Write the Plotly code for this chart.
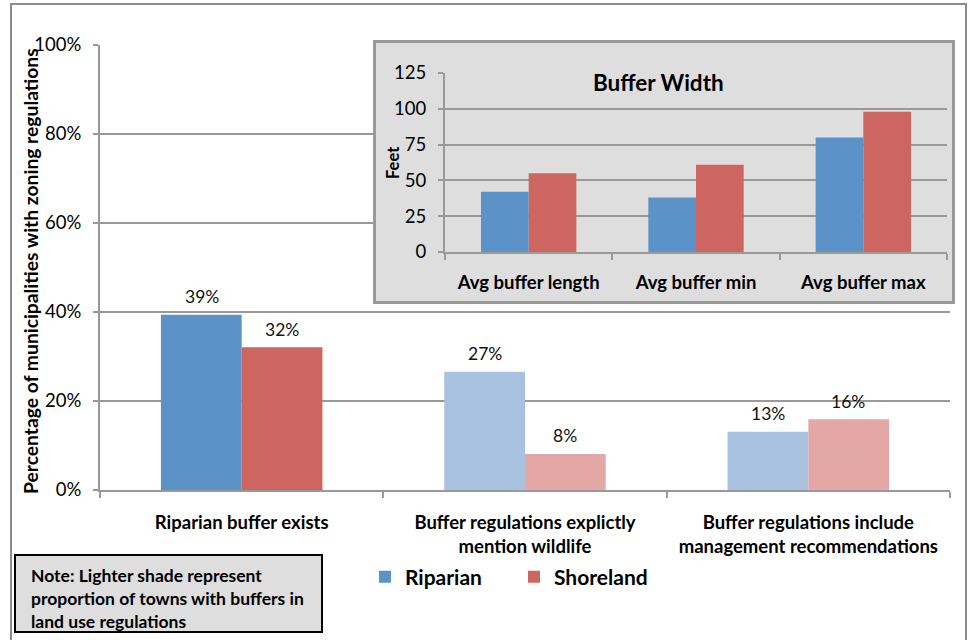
import plotly.graph_objects as go

# ---- data ----
categories = ["Riparian buffer exists",
              "Buffer regulations explictly<br>mention wildlife",
              "Buffer regulations include<br>management recommendations"]
riparian = [0.394, 0.266, 0.131]
shoreland = [0.321, 0.081, 0.159]

inset_categories = ["Avg buffer length", "Avg buffer min", "Avg buffer max"]
inset_riparian = [42, 38, 80]
inset_shoreland = [55, 61, 98]

series_names = ["Riparian", "Shoreland"]
y_ticks = [0, 0.2, 0.4, 0.6, 0.8, 1.0]
inset_ticks = [0, 25, 50, 75, 100, 125]

# ---- styles ----
BLUE, RED = "#5B93C9", "#CD6660"
BLUE_L, RED_L = "#A8C1DF", "#E3A8A6"
GRID = "#999999"
FONT = "Lato"

fig = go.Figure()

fig.add_trace(go.Bar(x=categories, y=riparian, name=series_names[0],
                     marker=dict(color=[BLUE, BLUE_L, BLUE_L], line=dict(width=0)),
                     hoverinfo="skip"))
fig.add_trace(go.Bar(x=categories, y=shoreland, name=series_names[1],
                     marker=dict(color=[RED, RED_L, RED_L], line=dict(width=0)),
                     hoverinfo="skip"))

# dummy subplot for inset frame (drawn above main plot)
fig.add_trace(go.Scatter(x=[], y=[], xaxis="x2", yaxis="y2", showlegend=False,
                         hoverinfo="skip"))

fig.add_trace(go.Bar(x=inset_categories, y=inset_riparian, xaxis="x3", yaxis="y3",
                     marker=dict(color=BLUE, line=dict(width=0)), showlegend=False,
                     hoverinfo="skip"))
fig.add_trace(go.Bar(x=inset_categories, y=inset_shoreland, xaxis="x3", yaxis="y3",
                     marker=dict(color=RED, line=dict(width=0)), showlegend=False,
                     hoverinfo="skip"))

# value labels above main bars
bar_half = 40
for vals, shift in ((riparian, -bar_half), (shoreland, bar_half)):
    for c, v in zip(categories, vals):
        fig.add_annotation(x=c, y=v, xref="x", yref="y", text=f"{v:.0%}",
                           showarrow=False, xshift=shift, yshift=18,
                           yanchor="middle", font=dict(size=17.5, color="#111"))

W_DOM = 850 / 860
H_DOM = 445 / 450

fig.update_layout(
    width=970, height=640,
    margin=dict(l=100, r=10, t=40, b=150),
    paper_bgcolor="white",
    plot_bgcolor="#DEDEDE",
    font=dict(family=FONT, color="#000"),
    barmode="group", bargap=0.43, bargroupgap=0,
    xaxis=dict(domain=[0, W_DOM], type="category", showline=True, linecolor=GRID,
               linewidth=2, ticks="outside", tickson="boundaries", ticklen=6,
               tickcolor=GRID, tickwidth=2, tickfont=dict(size=18.5, weight="bold"),
               ticklabelstandoff=15, fixedrange=True),
    yaxis=dict(domain=[0, H_DOM], range=[0, 1], tickvals=y_ticks, tickformat=".0%",
               showline=True, linecolor=GRID, linewidth=2, ticks="outside",
               ticklen=5, tickcolor=GRID, tickwidth=2, showgrid=True,
               gridcolor=GRID, gridwidth=2, zeroline=False,
               tickfont=dict(size=18.5), ticklabelstandoff=8, fixedrange=True),
    xaxis2=dict(domain=[(376 - 100) / 860, (952 - 100) / 860], anchor="y2",
                range=[0, 1], showline=True, mirror=True, linecolor="#999999",
                linewidth=3, showgrid=False, zeroline=False, showticklabels=False,
                ticks="", fixedrange=True),
    yaxis2=dict(domain=[(490 - 301) / 450, (490 - 43) / 450], anchor="x2",
                range=[0, 1], showline=True, mirror=True, linecolor="#999999",
                linewidth=3, showgrid=False, zeroline=False, showticklabels=False,
                ticks="", fixedrange=True),
    xaxis3=dict(domain=[(445 - 100) / 860, (947 - 100) / 860], anchor="y3",
                type="category", showline=True, linecolor=GRID, linewidth=2,
                ticks="outside", tickson="boundaries", ticklen=6, tickcolor=GRID,
                tickwidth=2, tickfont=dict(size=18.5, weight="bold"),
                ticklabelstandoff=13, fixedrange=True),
    yaxis3=dict(domain=[(490 - 252) / 450, (490 - 73) / 450], anchor="x3",
                range=[0, 125], tickvals=inset_ticks, showline=True, linecolor=GRID,
                linewidth=2, ticks="outside", ticklen=5, tickcolor=GRID, tickwidth=2,
                showgrid=True, gridcolor=GRID, gridwidth=2, zeroline=False,
                tickfont=dict(size=18.5), ticklabelstandoff=8, fixedrange=True),
    legend=dict(orientation="h", x=(365 - 100) / 860, y=(490 - 577) / 450,
                xanchor="left", yanchor="middle",
                font=dict(size=21, weight="bold"), bgcolor="rgba(0,0,0,0)",
                entrywidth=104, itemclick=False, itemdoubleclick=False),
    showlegend=True,
)

# axis titles as rotated text
fig.add_annotation(xref="paper", yref="paper", x=(30 - 100) / 860, y=(490 - 271) / 450,
                   xanchor="center", yanchor="middle", textangle=-90, showarrow=False,
                   text="Percentage of municipalities with zoning regulations",
                   font=dict(size=19.3, weight="bold"))
fig.add_annotation(xref="paper", yref="paper", x=(393 - 100) / 860, y=(490 - 163) / 450,
                   xanchor="center", yanchor="middle", textangle=-90, showarrow=False,
                   text="Feet", font=dict(size=16.5, weight="bold"))

# white background for main plot area (under gridlines)
fig.add_shape(type="rect", xref="paper", yref="paper", x0=0, x1=W_DOM, y0=0, y1=H_DOM,
              fillcolor="white", line=dict(width=0), layer="below")
# outer frame
fig.add_shape(type="rect", xref="paper", yref="paper",
              x0=(11 - 100) / 860, x1=(966 - 100) / 860,
              y0=(490 - 660) / 450, y1=(490 - 4) / 450,
              line=dict(color="#8C8C8C", width=2), fillcolor="rgba(0,0,0,0)",
              layer="below")
# note box
fig.add_shape(type="rect", xref="paper", yref="paper",
              x0=(15 - 100) / 860, x1=(322 - 100) / 860,
              y0=(490 - 632) / 450, y1=(490 - 555) / 450,
              line=dict(color="#000", width=2), fillcolor="#DEDEDE")
fig.add_annotation(xref="paper", yref="paper", x=(29 - 100) / 860, y=(490 - 598) / 450,
                   xanchor="left", yanchor="middle", align="left", showarrow=False,
                   text="Note: Lighter shade represent<br>proportion of towns with buffers in<br>land use regulations",
                   font=dict(size=17.5, weight="bold"))
# inset title
fig.add_annotation(xref="paper", yref="paper", x=(658 - 100) / 860, y=(490 - 82) / 450,
                   xanchor="center", yanchor="middle", showarrow=False,
                   text="Buffer Width", font=dict(size=22.5, weight="bold"))

fig.write_html("out.html", config={"displayModeBar": False},
               post_script="document.body.style.margin='0';document.body.style.overflow='hidden';")
